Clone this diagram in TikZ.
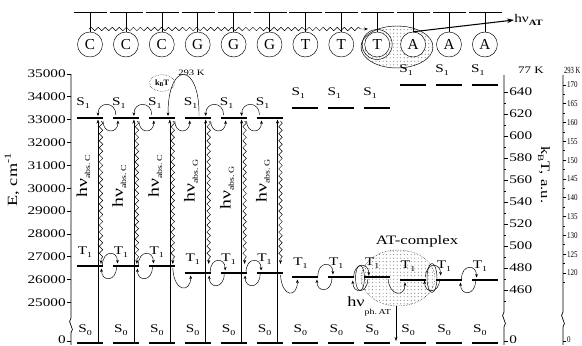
\documentclass[tikz,border=0pt]{standalone}
\usepackage{fontspec}
\setmainfont{Liberation Serif}
\usetikzlibrary{arrows.meta,decorations.pathmorphing,patterns,shapes.geometric}

\newcommand{\lv}[2]{#1\raisebox{-0.5ex}{\fontsize{6.5}{7}\selectfont #2}}

\tikzset{
  txt/.style={inner sep=0pt, font=\fontsize{10}{12}\selectfont, xscale=1.3},
  vtxt/.style={inner sep=0pt, rotate=90, xscale=1.3},
  lvl/.style={line width=2.4pt},
  basering/.style={circle, draw, thin, fill=white, minimum size=0.75cm, inner sep=0pt, font=\fontsize{13}{14}\selectfont},
  absarrow/.style={thin, -{Stealth[length=3.5pt,width=2.6pt]}},
  wavy/.style={thin, decorate, decoration={snake, amplitude=1.5pt, segment length=6pt, post length=3.5pt}, -{Stealth[length=3.5pt,width=2.6pt]}},
  xfer/.style={thin, -{Stealth[length=3pt,width=2.4pt]}},
  axline/.style={line width=0.6pt},
  blob/.style={pattern=dots, pattern color=gray},
}

\begin{document}
\begin{tikzpicture}[x=0.03cm, y=-0.03cm]
\useasboundingbox (0,0) rectangle (582,346);

% AT-complex shading
\draw[thin, blob] (397,47) ellipse [x radius=36, y radius=21];
\draw[densely dotted, blob] (398,278) ellipse [x radius=37, y radius=28];

% strand
\foreach \k/\nuc in {1/C,2/C,3/C,4/G,5/G,6/G,7/T,8/T,9/T,10/A,11/A,12/A}{
  \pgfmathsetmacro{\cx}{90+35.9*(\k-1)}
  \draw[thin] (\cx-16,12) -- (\cx+17,12);
  \node[basering] (b\k) at (\cx,44.5) {\nuc};
  \draw[thin] (\cx,12) -- (b\k.north);
}
\draw[thin] (b9) circle [radius=15];
\coordinate (w0) at (89,29);
\coordinate (w1) at (368,29);
\draw[wavy] (w0) -- (w1);
\node[txt, anchor=west] (hvat) at (514,20) {hν\raisebox{-0.6ex}{\fontsize{7}{8}\selectfont\bfseries AT}};
\draw[line width=0.9pt, -{Stealth[length=6pt,width=4pt]}] (b10.north) -- (hvat.west);

% levels
\foreach \k/\ys/\yt in {1/118/266,2/118/266,3/118/266,4/118/273,5/118/273,6/118/273,7/108/277,8/108/277,9/108/277,10/85/280,11/85/280,12/85/280}{
  \pgfmathsetmacro{\cx}{90+35.9*(\k-1)}
  \draw[lvl] (\cx-13,\ys) -- (\cx+13,\ys);
  \draw[lvl] (\cx-13,\yt) -- (\cx+13,\yt);
  \draw[lvl] (\cx-13,343) -- (\cx+13,343);
  \node[txt] (s1\k) at (\cx-7,\ys-15) {\lv{S}{1}};
  \node[txt] (t1\k) at (\cx-5,\yt-14) {\lv{T}{1}};
  \node[txt] (s0\k) at (\cx-5,330) {\lv{S}{0}};
}

% absorption and relaxation
\foreach \k/\nuc/\yl in {1/C/198,2/C/208,3/C/198,4/G/203,5/G/210,6/G/203}{
  \pgfmathsetmacro{\cx}{90+35.9*(\k-1)}
  \draw[absarrow] (\cx+8,342) -- (\cx+8,119.5);
  \draw[wavy] (\cx+11,121) -- (\cx+11,264);
  \node[vtxt, anchor=base west] (hv\k) at (\cx-3,\yl) {{\fontsize{13}{14}\selectfont hν}\raisebox{-0.6ex}{\fontsize{6.5}{7}\selectfont abs.\,\nuc}};
}

% S1 transfer loops
\foreach \k in {1,2,4,5}{
  \pgfmathsetmacro{\ca}{90+35.9*(\k-1)}
  \pgfmathsetmacro{\cb}{\ca+35.9}
  \draw[xfer] (\cb-10,115) .. controls (\cb-10,101) and (\ca+8,101) .. (\ca+8,116);
  \draw[xfer] (\ca+13,121) .. controls (\ca+13,134) and (\cb-8,134) .. (\cb-8,120.5);
}
\draw[xfer] (174.8,121) .. controls (174.8,134) and (189.7,134) .. (189.7,120.5);
\draw[xfer] (199,116) .. controls (200,62) and (168,60) .. (168,116);
\node[draw, densely dotted, ellipse, minimum width=0.75cm, minimum height=0.5cm, inner sep=0pt, font=\fontsize{7}{8}\selectfont\bfseries] (kt) at (162,83) {k\raisebox{-0.4ex}{\fontsize{5}{6}\selectfont B}T};
\node[txt, font=\fontsize{7}{8}\selectfont, anchor=west] (t293) at (178,73) {293 K};

% T1 transfer loops
\foreach \k/\yt in {1/266,2/266,4/273,5/273,7/277,8/278,10/278,11/280}{
  \pgfmathsetmacro{\m}{90+35.9*(\k-1)+19.5}
  \draw[xfer] (\m-7,\yt-1) .. controls (\m-7,\yt-16) and (\m+8,\yt-16) .. (\m+8,\yt-2.5);
  \draw[xfer] (\m+7,\yt+1) .. controls (\m+7,\yt+16) and (\m-8,\yt+16) .. (\m-8,\yt+2.5);
}
\draw[thin] (360,278) ellipse [x radius=4.5, y radius=12.5];
\draw[thin] (432,278) ellipse [x radius=5, y radius=14.5];
\draw[xfer] (172.8,268) .. controls (174,293) and (190.7,293) .. (190.7,275.5);
\draw[xfer] (280.5,275) .. controls (282,298) and (297.4,298) .. (297.4,279.5);
\draw[xfer] (388,279) .. controls (390,297) and (405,297) .. (405,282.5);

\node[txt, font=\fontsize{11}{12}\selectfont] (atc) at (417,241) {AT-complex};
\node[txt, anchor=base west] (hvph) at (347,307) {{\fontsize{12}{13}\selectfont hν}\raisebox{-6pt}{\fontsize{6.5}{7}\selectfont ph.\,AT}};
\coordinate (ph0) at (396,306);
\coordinate (ph1) at (396,341);
\draw[absarrow] (ph0) -- (ph1);

% left axis
\draw[axline] (71,74) -- (71,318) .. controls (66,322) and (76,329) .. (71,333) -- (71,345);
\foreach \i in {0,...,10}{
  \draw[axline] (67,74+22.85*\i) -- (71,74+22.85*\i);
  \node[txt, anchor=east] (e\i) at (66,74+22.85*\i) {\the\numexpr35-\i\relax000};
}
\draw[axline] (67,341) -- (71,341);
\node[txt, anchor=east] (e0b) at (66,340) {0};
\node[vtxt, font=\fontsize{12}{13}\selectfont] (elab) at (12,180) {E, cm\raisebox{1ex}{\fontsize{8}{9}\selectfont -1}};

% kT axis, 77 K
\draw[axline] (504,75) -- (504,312) .. controls (499,316) and (509,323) .. (504,327) -- (504,345);
\foreach \i in {0,...,9}{
  \draw[axline] (504,92+22*\i) -- (508,92+22*\i);
  \draw[axline] (504,103+22*\i) -- (506,103+22*\i);
  \node[txt, anchor=west] (k\i) at (509,92+22*\i) {\the\numexpr640-20*\i\relax};
}
\draw[axline] (504,341) -- (508,341);
\node[txt, anchor=west] (k0b) at (509,340) {0};
\node[txt, font=\fontsize{8.5}{10}\selectfont] (k77) at (531,70) {77 K};
\node[inner sep=0pt, rotate=-90, xscale=1.3, font=\fontsize{11}{12}\selectfont] (klab) at (544,175) {k\raisebox{-0.5ex}{\fontsize{7}{8}\selectfont B}T, a.u.};

% kT axis, 293 K
\draw[axline] (563,75) -- (563,312) .. controls (558,316) and (568,323) .. (563,327) -- (563,345);
\foreach \i in {0,...,10}{
  \draw[axline] (563,85+18.8*\i) -- (566,85+18.8*\i);
  \draw[axline] (563,94.4+18.8*\i) -- (564.5,94.4+18.8*\i);
  \node[inner sep=0pt, anchor=west, xscale=0.8, font=\fontsize{7.5}{8}\selectfont] (m\i) at (567,85+18.8*\i) {\the\numexpr170-5*\i\relax};
}
\draw[axline] (563,341) -- (566,341);
\node[inner sep=0pt, anchor=west, xscale=0.8, font=\fontsize{7.5}{8}\selectfont] (m0b) at (567,340) {0};
\node[inner sep=0pt, anchor=west, xscale=0.7, font=\fontsize{8}{9}\selectfont] (m293) at (564,70) {293 K};
\end{tikzpicture}
\end{document}
